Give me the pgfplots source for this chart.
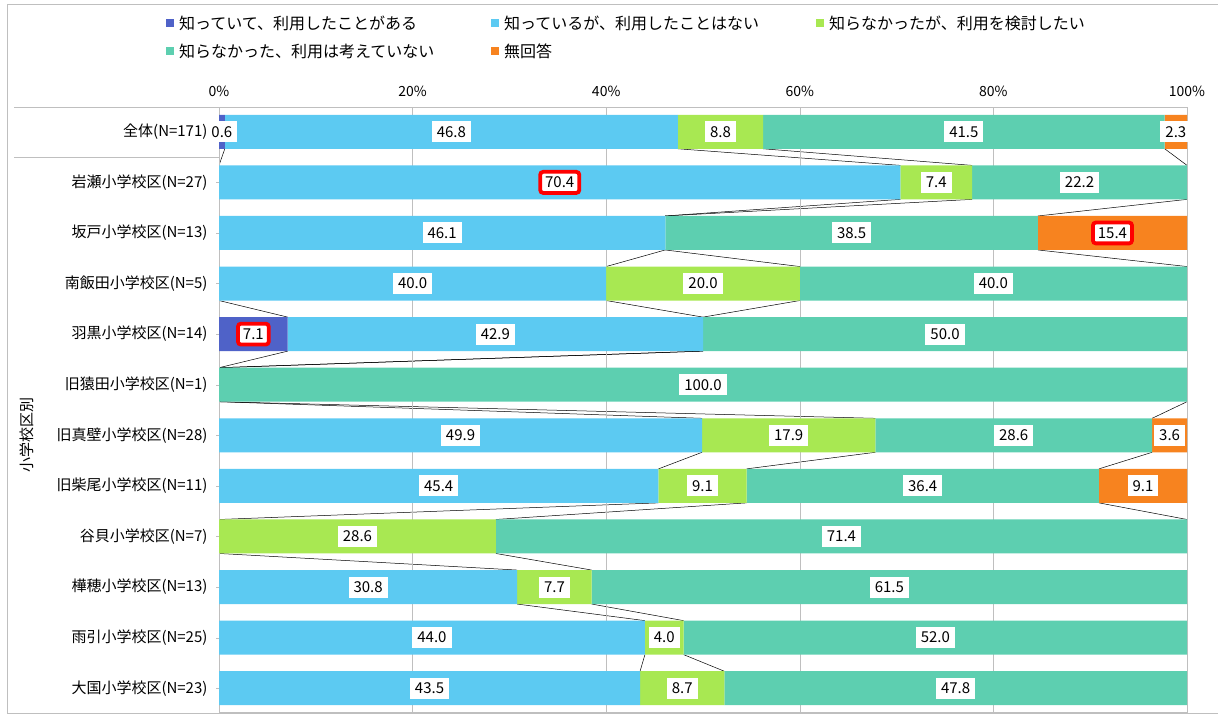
\documentclass[border=0pt]{standalone}
\usepackage{pgfplots}
\usepackage{pgfplotstable}
\pgfplotsset{compat=1.18}
\usepackage{fontspec}
\setmainfont{Noto Sans CJK JP}

\definecolor{cA}{HTML}{4F62C8}
\definecolor{cB}{HTML}{5CCAF2}
\definecolor{cC}{HTML}{A8E852}
\definecolor{cD}{HTML}{5DCFB0}
\definecolor{cE}{HTML}{F7831F}
\definecolor{frame}{HTML}{BFBFBF}

\newcommand\fs[1]{\fontsize{#1}{#1}\selectfont}

% A: 知っていて、利用したことがある  B: 知っているが、利用したことはない
% C: 知らなかったが、利用を検討したい  D: 知らなかった、利用は考えていない  E: 無回答
\pgfplotstableread{
row A B C D E
0 0.6 46.8 8.8 41.5 2.3
1 0 70.4 7.4 22.2 0
2 0 46.1 0 38.5 15.4
3 0 40.0 20.0 40.0 0
4 7.1 42.9 0 50.0 0
5 0 0 0 100.0 0
6 0 49.9 17.9 28.6 3.6
7 0 45.4 9.1 36.4 9.1
8 0 0 28.6 71.4 0
9 0 30.8 7.7 61.5 0
10 0 44.0 4.0 52.0 0
11 0 43.5 8.7 47.8 0
}\data

% highlighted labels (segment centre, row, value)
\pgfplotstableread{
x y v
35.2 1 70.4
92.3 2 15.4
3.55 4 7.1
}\hl

% cumulative ends and segment centres
\pgfplotstablecreatecol[create col/expr={\thisrow{A}}]{cA}\data
\pgfplotstablecreatecol[create col/expr={\thisrow{cA}+\thisrow{B}}]{cB}\data
\pgfplotstablecreatecol[create col/expr={\thisrow{cB}+\thisrow{C}}]{cC}\data
\pgfplotstablecreatecol[create col/expr={\thisrow{cC}+\thisrow{D}}]{cD}\data
\pgfplotstablecreatecol[create col/expr={\thisrow{cD}+\thisrow{E}}]{cE}\data
\pgfplotstablecreatecol[create col/expr={\thisrow{A}/2}]{mA}\data
\pgfplotstablecreatecol[create col/expr={\thisrow{cA}+\thisrow{B}/2}]{mB}\data
\pgfplotstablecreatecol[create col/expr={\thisrow{cB}+\thisrow{C}/2}]{mC}\data
\pgfplotstablecreatecol[create col/expr={\thisrow{cC}+\thisrow{D}/2}]{mD}\data
\pgfplotstablecreatecol[create col/expr={\thisrow{cD}+\thisrow{E}/2}]{mE}\data

% end of the same series in the next row (for the series lines)
\newcommand\mknext[1]{%
  \pgfplotstablecreatecol[create col/assign/.code={%
    \getnextrow{c#1}\nxt
    \ifx\nxt\empty\def\nxt{0}\fi
    \pgfkeyslet{/pgfplots/table/create col/next content}\nxt}]{n#1}\data}
\mknext{A}\mknext{B}\mknext{C}\mknext{D}\mknext{E}

\pgfplotsset{
  base/.style={width=968pt, height=605pt, scale only axis,
    xmin=0, xmax=100, ymin=-0.48, ymax=11.48, y dir=reverse,
    at={(219pt,2.5pt)}, anchor=south west},
  sline/.style={black, line width=0.5pt, skip coords between index={11}{12},
    quiver={u=\thisrow{n#1}-\thisrow{c#1}, v=0.328}},
  lg/.style={legend image code/.code={\fill[##1] (0pt,-4pt) rectangle (8pt,4pt);}},
  lbl/.style={draw=none, mark=none, point meta=explicit,
    restrict expr to domain={\thisrow{#1}}{0.05:1000},
    nodes near coords={\pgfmathprintnumber[fixed,fixed zerofill,precision=1]{\pgfplotspointmeta}},
    every node near coord/.style={fill=white, inner xsep=5pt, inner ysep=5pt,
      font=\fs{15}, text=black, anchor=center}},
}

\begin{document}
\begin{tikzpicture}
\path[use as bounding box] (0,0) rectangle (1218pt,715pt);
\draw[frame, line width=0.8pt] (1230pt,711pt) -- (7pt,711pt) -- (7pt,1.5pt) -- (1230pt,1.5pt);

% series lines
\begin{axis}[base, hide axis]
\addplot[sline=A] table[x=cA, y expr=\thisrow{row}+0.336]{\data};
\addplot[sline=B] table[x=cB, y expr=\thisrow{row}+0.336]{\data};
\addplot[sline=C] table[x=cC, y expr=\thisrow{row}+0.336]{\data};
\addplot[sline=D] table[x=cD, y expr=\thisrow{row}+0.336]{\data};
\addplot[sline=E] table[x=cE, y expr=\thisrow{row}+0.336]{\data};
\end{axis}

% bars
\begin{axis}[base, xbar stacked, bar width=0.672,
  xtick={0,20,...,100}, xticklabel pos=upper,
  xmajorgrids, grid style={frame, line width=0.6pt},
  ytick={0,...,11}, ytick pos=left,
  yticklabels={全体(N=171),岩瀬小学校区(N=27),坂戸小学校区(N=13),南飯田小学校区(N=5),
    羽黒小学校区(N=14),旧猿田小学校区(N=1),旧真壁小学校区(N=28),旧柴尾小学校区(N=11),
    谷貝小学校区(N=7),樺穂小学校区(N=13),雨引小学校区(N=25),大国小学校区(N=23)},
  axis line style={frame, line width=0.6pt},
  tick style={frame}, major tick length=3pt, tick align=outside,
  xtick style={draw=none},
  /pgf/number format/assume math mode=true,
  xticklabel={\pgfmathprintnumber{\tick}\%},
  xticklabel style={font=\fs{14}, yshift=4pt},
  yticklabel style={font=\fs{15}, xshift=-5pt},
  legend columns=3, legend cell align=left,
  legend style={draw=none, fill=none, inner sep=0pt,
    at={(-0.0548,1.152)}, anchor=north west, font=\fs{16},
    nodes={inner sep=0pt}, row sep=13pt,
    /tikz/every odd column/.append style={column sep=5pt},
    /tikz/every even column/.append style={column sep=0pt}},
]
\addplot[fill=cA, draw=none, lg] table[x=A, y=row]{\data};
\addlegendentry{\makebox[312pt][l]{知っていて、利用したことがある}}
\addplot[fill=cB, draw=none, lg] table[x=B, y=row]{\data};
\addlegendentry{\makebox[312pt][l]{知っているが、利用したことはない}}
\addplot[fill=cC, draw=none, lg] table[x=C, y=row]{\data};
\addlegendentry{知らなかったが、利用を検討したい}
\addplot[fill=cD, draw=none, lg] table[x=D, y=row]{\data};
\addlegendentry{\makebox[312pt][l]{知らなかった、利用は考えていない}}
\addplot[fill=cE, draw=none, lg] table[x=E, y=row]{\data};
\addlegendentry{\makebox[312pt][l]{無回答}}
\coordinate (top) at (axis cs:0,-0.48);
\coordinate (sep) at (axis cs:0,0.5);
\coordinate (grp) at (axis cs:0,5.99);
\end{axis}

% data labels
\begin{axis}[base, hide axis, clip=false, unbounded coords=discard,
  /pgf/number format/assume math mode=true]
\addplot[lbl=A] table[x=mA, y=row, meta=A]{\data};
\addplot[lbl=B] table[x=mB, y=row, meta=B]{\data};
\addplot[lbl=C] table[x=mC, y=row, meta=C]{\data};
\addplot[lbl=D] table[x=mD, y=row, meta=D]{\data};
\addplot[lbl=E] table[x=mE, y=row, meta=E]{\data};
\addplot[draw=none, mark=none, point meta=explicit,
  nodes near coords={\pgfmathprintnumber[fixed,fixed zerofill,precision=1]{\pgfplotspointmeta}},
  every node near coord/.style={fill=white, draw=red, line width=3.8pt, rounded corners=3pt,
    inner xsep=5pt, inner ysep=5pt, font=\fs{15}, text=black, anchor=center}]
  table[x=x, y=y, meta=v]{\hl};
\end{axis}

\draw[frame, line width=0.6pt] (top) -- ++(-205pt,0pt);
\draw[frame, line width=0.6pt] (sep) -- ++(-205pt,0pt);
\node[rotate=90, font=\fs{15}] at ([xshift=-192pt]grp) {小学校区別};
\end{tikzpicture}
\end{document}
